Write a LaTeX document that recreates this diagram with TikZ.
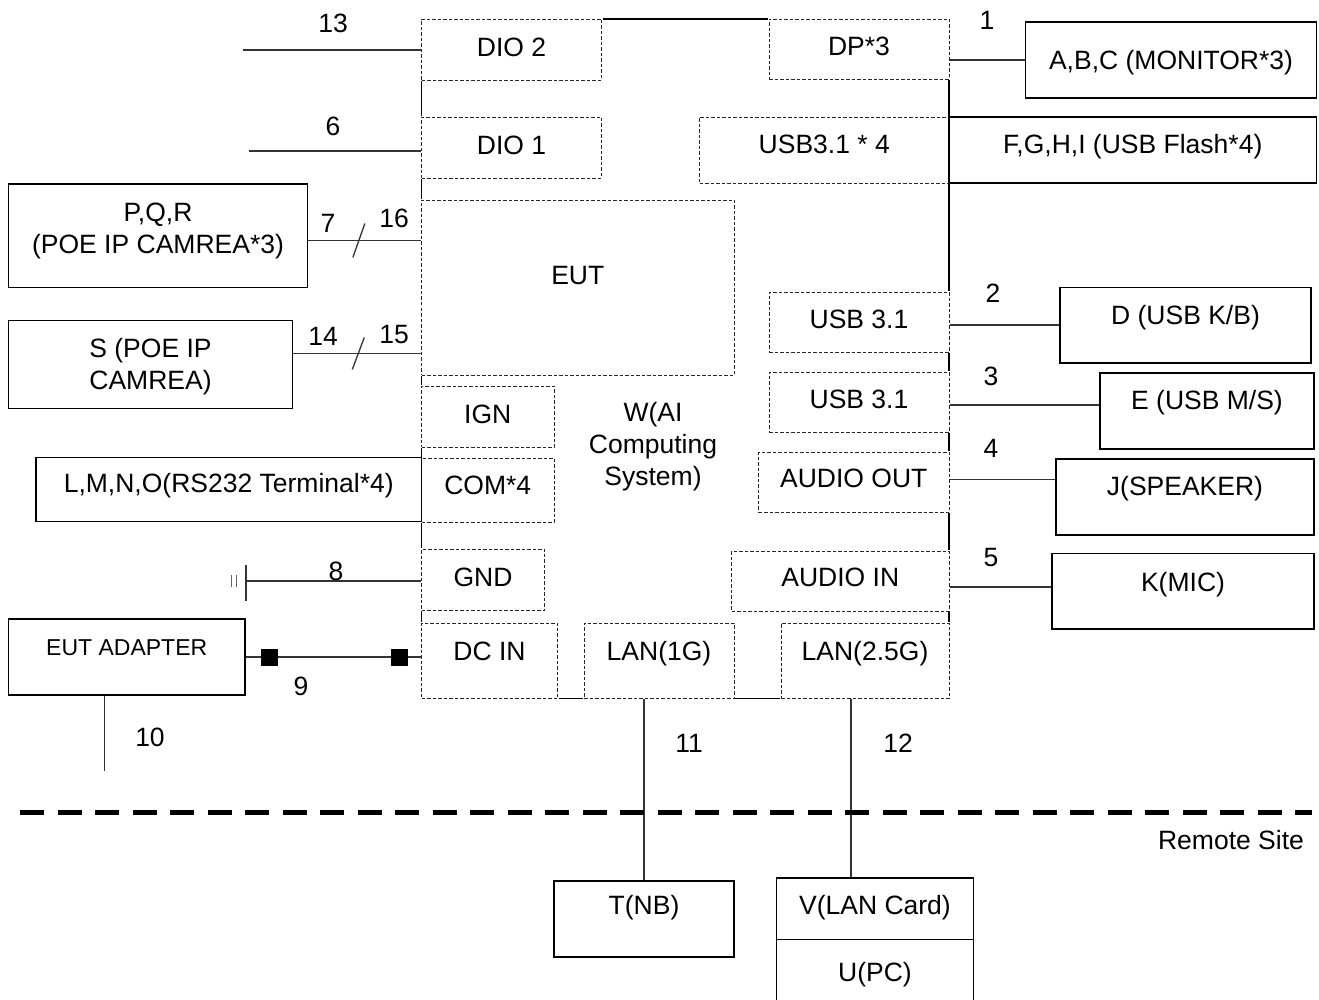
\documentclass[tikz,border=0pt]{standalone}
\usepackage{fontspec}
\setmainfont{Liberation Sans}
\begin{document}
\begin{tikzpicture}[x=1pt, y=-1pt,
    every node/.style={font=\fontsize{26.5}{31.8}\selectfont, inner sep=0pt,
        align=center, text height=20pt, text depth=6.8pt},
    box/.style={draw, line width=1.2pt},
    port/.style={draw=black!85, fill=white, line width=0.9pt, dash pattern=on 3.5pt off 2pt,
        preaction={draw=white, solid, line width=2.2pt}},
    lift/.style={text depth=#1},
    tall/.style={text height=#1},
    wire/.style={draw=black!80, line width=1.3pt},
    plug/.style={fill=black, minimum size=17pt, text height=0pt, text depth=0pt},
    site/.style={line width=5pt, dash pattern=on 24pt off 13.5pt}]

\useasboundingbox (0,0) rectangle (1319,1000);

% AI computing system
\node[box, minimum width=527.5pt, minimum height=679.5pt] (w) at (685.25,358.75) {};
\node[tall=89.4pt] (wname) at (653,444) {W(AI\\Computing\\System)};

% ports of the EUT
\node[port, minimum width=180pt, minimum height=61pt] (dio2) at (511.5,49.5) {DIO 2};
\node[port, minimum width=180pt, minimum height=60.5pt] (dio1) at (511.5,147.75) {DIO 1};
\node[port, minimum width=180pt, minimum height=60pt] (dp) at (859,49) {DP*3};
\node[port, minimum width=249.5pt, minimum height=66pt, lift=13pt] (usbx4) at (824.25,150) {USB3.1 * 4};
\node[port, minimum width=312.5pt, minimum height=175pt, lift=26pt] (eut) at (577.75,287.5) {EUT};
\node[port, minimum width=180pt, minimum height=60pt] (usba) at (859,322) {USB 3.1};
\node[port, minimum width=180pt, minimum height=60pt] (usbb) at (859,402) {USB 3.1};
\node[port, minimum width=190.5pt, minimum height=60pt, lift=9pt] (aout) at (853.75,482) {AUDIO OUT};
\node[port, minimum width=217.5pt, minimum height=60pt, lift=9pt] (ain) at (840.25,581) {AUDIO IN};
\node[port, minimum width=132.5pt, minimum height=61pt] (ign) at (487.75,416.5) {IGN};
\node[port, minimum width=132.5pt, minimum height=64pt, lift=11pt] (com) at (487.75,490) {COM*4};
\node[port, minimum width=123pt, minimum height=61pt] (gnd) at (483,579.5) {GND};
\node[port, minimum width=136pt, minimum height=75.5pt, lift=21pt] (dcin) at (489.5,660.75) {DC IN};
\node[port, minimum width=150pt, minimum height=75.5pt, lift=21pt] (lan1) at (659,660.75) {LAN(1G)};
\node[port, minimum width=168pt, minimum height=75.5pt, lift=21pt] (lan2) at (865,660.75) {LAN(2.5G)};

% peripherals
\node[box, minimum width=291pt, minimum height=76pt, lift=1pt] (abc) at (1171,60) {A,B,C (MONITOR*3)};
\node[box, minimum width=367.5pt, minimum height=66pt, lift=13pt] (fghi) at (1132.75,150) {F,G,H,I (USB Flash*4)};
\node[box, minimum width=251pt, minimum height=75.5pt, lift=21pt] (kb) at (1185.5,325.25) {D (USB K/B)};
\node[box, minimum width=214pt, minimum height=76pt, lift=23pt] (ms) at (1207,411) {E (USB M/S)};
\node[box, minimum width=258pt, minimum height=76pt, lift=23pt] (spk) at (1185,497) {J(SPEAKER)};
\node[box, minimum width=262pt, minimum height=75.5pt, lift=19.6pt] (mic) at (1183,591.25) {K(MIC)};
\node[box, minimum width=299pt, minimum height=103.5pt, tall=42.6pt] (pqr) at (158,235.75) {P,Q,R\\(POE IP CAMREA*3)};
\node[box, minimum width=284pt, minimum height=88pt, tall=56.6pt] (scam) at (150.5,364.5) {S (POE IP\\CAMREA)};
\node[box, minimum width=385.5pt, minimum height=64pt, lift=14pt] (term) at (228.75,489.5) {L,M,N,O(RS232 Terminal*4)};
\node[box, minimum width=236.5pt, minimum height=76pt, lift=22.1pt, font=\fontsize{23}{27.6}\selectfont] (adapter) at (126.75,657) {EUT ADAPTER};
\node[box, minimum width=180pt, minimum height=76pt, lift=29pt] (tnb) at (644,919) {T(NB)};
\node[box, minimum width=197pt, minimum height=61.5pt, lift=8pt] (vlan) at (875,908.75) {V(LAN Card)};
\node[box, minimum width=197pt, minimum height=71.5pt] (upc) at (875,975.25) {U(PC)};

% free cable ends
\coordinate (c13) at (243,50);
\coordinate (c6) at (249,151);
\coordinate (earth) at (246,581);
\coordinate (c10) at (104.5,771);

% cables
\draw[wire] (c13) -- (c13 -| w.west);
\draw[wire] (c6) -- (c6 -| w.west);
\draw[wire] (abc.west -| w.east) -- (abc.west);
\draw[wire] (pqr.east |- 0,240.5) -- coordinate[pos=0.45] (s7) (w.west |- 0,240.5);
\draw[wire] ([shift={(-6,17)}]s7) -- ([shift={(6,-17)}]s7);
\draw[wire] (scam.east |- 0,353.5) -- coordinate[pos=0.51] (s14) (w.west |- 0,353.5);
\draw[wire] ([shift={(-6,16)}]s14) -- ([shift={(6,-16)}]s14);
\draw[wire] (w.east |- 0,325) -- (kb.west |- 0,325);
\draw[wire] (w.east |- 0,405) -- (ms.west |- 0,405);
\draw[wire] (w.east |- 0,479.5) -- (spk.west |- 0,479.5);
\draw[wire] (w.east |- 0,587) -- (mic.west |- 0,587);
\draw[wire] (earth) -- (earth -| w.west);
\draw[wire] ([yshift=16pt]earth) -- ([yshift=-20pt]earth);
\draw[black!60, line width=0.8pt] ([shift={(-15,-6)}]earth) -- ++(0,12)
    ([shift={(-10,-6)}]earth) -- ++(0,12);
\draw[wire] (adapter.east) -- (adapter.east -| dcin.west)
    node[plug, pos=0.136] (plugA) {} node[plug, pos=0.878] (plugB) {};
\draw[wire] (adapter.south -| c10) -- (c10);
\draw[wire] (lan1.south -| tnb.north) -- (tnb.north);
\draw[wire] (lan2.south -| 851,0) -- (vlan.north -| 851,0);

% remote site border
\draw[site] (20,812) -- (1312,812);

% cable numbers
\node (n13) at (333,25.5) {13};
\node (n6) at (333,129) {6};
\node (n1) at (987,23) {1};
\node (n7) at (328,226) {7};
\node (n16) at (394,221) {16};
\node (n14) at (323,339) {14};
\node (n15) at (394,337) {15};
\node (n2) at (993,296) {2};
\node (n3) at (991,379) {3};
\node (n4) at (991,451) {4};
\node (n5) at (991,560) {5};
\node (n8) at (336,574) {8};
\node (n9) at (301,689) {9};
\node (n10) at (150,740) {10};
\node (n11) at (689,746) {11};
\node (n12) at (898,746) {12};
\node (remote) at (1231,843) {Remote Site};
\end{tikzpicture}
\end{document}
